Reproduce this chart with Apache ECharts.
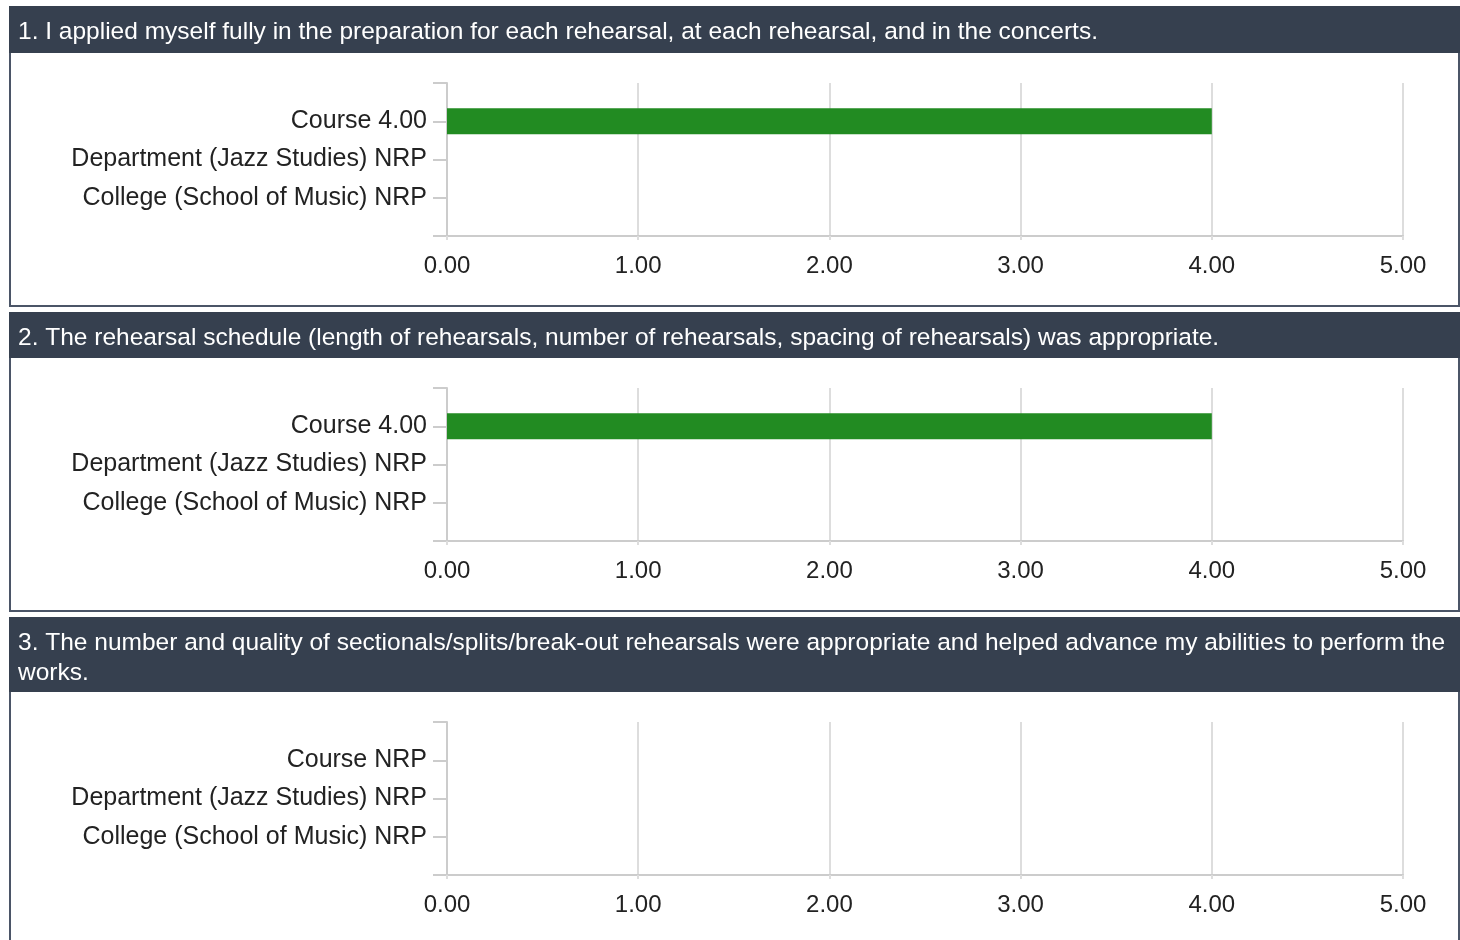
<!DOCTYPE html>
<html>
<head>
<meta charset="utf-8">
<script src="https://cdn.jsdelivr.net/npm/echarts@6/dist/echarts.min.js"></script>
<style>
html,body{margin:0;padding:0;background:#fff;}
#c{width:1460px;height:940px;}
</style>
</head>
<body>
<div id="c"></div>
<script>
// ---- data ----
const questions = [
  "1. I applied myself fully in the preparation for each rehearsal, at each rehearsal, and in the concerts.",
  "2. The rehearsal schedule (length of rehearsals, number of rehearsals, spacing of rehearsals) was appropriate.",
  "3. The number and quality of sectionals/splits/break-out rehearsals were appropriate and helped advance my abilities to perform the works."
];
const categories = ["Course", "Department (Jazz Studies)", "College (School of Music)"];
const q1Values = [4.00, null, null];
const q2Values = [4.00, null, null];
const q3Values = [null, null, null];
const xTicks = [0, 1, 2, 3, 4, 5];

// ---- layout ----
const FONT = "'Liberation Sans', Arial, sans-serif";
const HEADER = '#36404f';
const BORDER = '#4b5567';
const panels = [
  {values: q1Values, headTop: 6, headH: 47, bodyBottom: 306, gridTop: 83},
  {values: q2Values, headTop: 312, headH: 46, bodyBottom: 611, gridTop: 388},
  {values: q3Values, headTop: 617, headH: 75, bodyBottom: 950, gridTop: 722}
];
const GRID_H = 153;

const chart = echarts.init(document.getElementById('c'), null, {renderer: 'canvas'});

const grids = [], xAxes = [], yAxes = [], series = [], graphics = [];
panels.forEach((p, i) => {
  const bodyTop = p.headTop + p.headH;
  graphics.push({
    type: 'rect', z: -10, silent: true,
    shape: {x: 10, y: bodyTop - 1, width: 1449, height: p.bodyBottom - bodyTop + 1},
    style: {fill: '#fff', stroke: BORDER, lineWidth: 2}
  });
  graphics.push({
    type: 'rect', z: -9, silent: true,
    shape: {x: 9, y: p.headTop, width: 1451, height: p.headH},
    style: {fill: HEADER}
  });
  graphics.push({
    type: 'text', z: -8, silent: true,
    x: 18, y: p.headTop + 11,
    style: {
      text: questions[i], fill: '#ffffff', font: '24.5px ' + FONT,
      width: 1436, overflow: 'break', lineHeight: 30
    }
  });

  const labels = categories.map((c, k) => c + ' ' + (p.values[k] == null ? 'NRP' : p.values[k].toFixed(2)));
  grids.push({left: 447, right: 57, top: p.gridTop, height: GRID_H, containLabel: false});
  xAxes.push({
    type: 'value', gridIndex: i, min: xTicks[0], max: xTicks[xTicks.length - 1], interval: 1,
    axisLine: {show: true, lineStyle: {color: '#cccccc', width: 2}},
    axisTick: {show: true, length: 4, lineStyle: {color: '#dddddd', width: 2}},
    splitLine: {show: true, lineStyle: {color: '#dddddd', width: 2}},
    axisLabel: {formatter: v => v.toFixed(2), color: '#222', fontSize: 24, fontFamily: FONT, margin: 18}
  });
  yAxes.push({
    type: 'category', gridIndex: i, inverse: true, boundaryGap: false,
    data: [''].concat(labels).concat(['']),
    axisLine: {show: true, lineStyle: {color: '#cccccc', width: 2}},
    axisTick: {show: true, length: 14, lineStyle: {color: '#cccccc', width: 2}, alignWithLabel: true},
    splitLine: {show: false},
    axisLabel: {color: '#222', fontSize: 25, fontFamily: FONT, margin: 20, interval: 0}
  });
  series.push({
    type: 'bar', xAxisIndex: i, yAxisIndex: i,
    data: [null].concat(p.values).concat([null]),
    barWidth: 26, itemStyle: {color: '#228b22'},
    silent: true, animation: false
  });
});

chart.setOption({
  animation: false,
  backgroundColor: '#ffffff',
  grid: grids, xAxis: xAxes, yAxis: yAxes, series: series,
  graphic: graphics
});
</script>
</body>
</html>
